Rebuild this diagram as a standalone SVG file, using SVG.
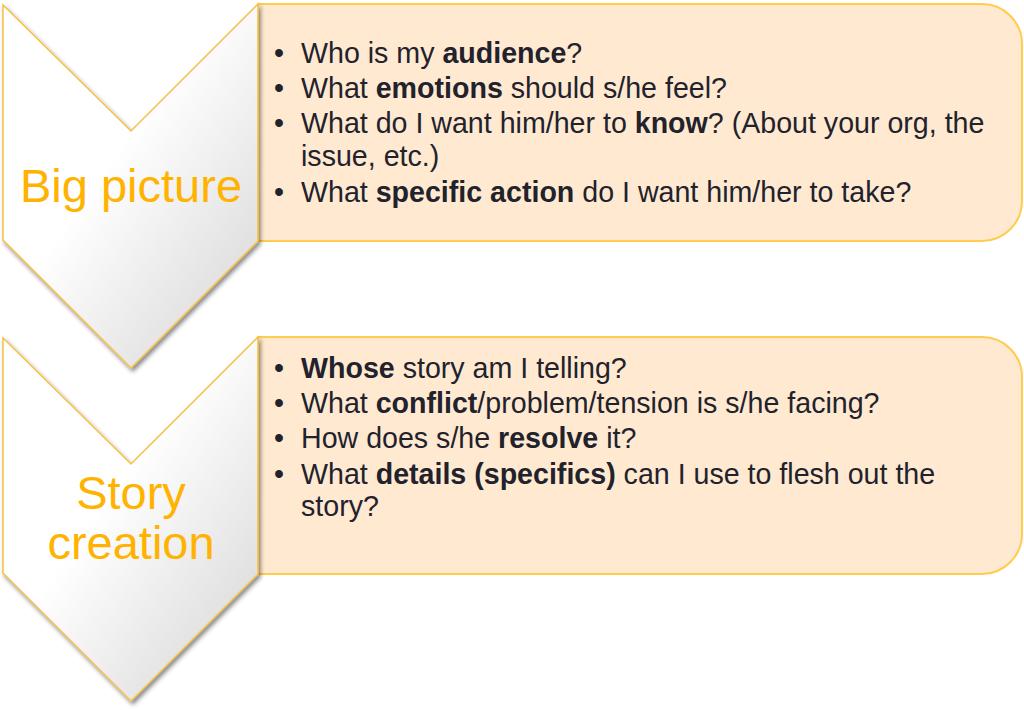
<svg xmlns="http://www.w3.org/2000/svg" width="1024" height="710" viewBox="0 0 1024 710">
<defs>
<linearGradient id="chevGrad" x1="0.35" y1="0.5" x2="0.85" y2="1">
<stop offset="0" stop-color="#ffffff"/>
<stop offset="1" stop-color="#d9d9d9"/>
</linearGradient>
<filter id="shadow" x="-10%" y="-10%" width="130%" height="130%">
<feDropShadow dx="2" dy="3" stdDeviation="2" flood-color="#000" flood-opacity="0.45"/>
</filter>
</defs>
<style>
.chev{fill:url(#chevGrad);stroke:#F5C142;stroke-width:1.5;filter:url(#shadow);}
.box{fill:#FFE9D1;stroke:#FFCC4D;stroke-width:2;}
.title{font-family:"Liberation Sans",Arial,sans-serif;font-size:47px;fill:#FFB300;text-anchor:middle;}
.body{font-family:"Liberation Sans",Arial,sans-serif;font-size:28.6px;fill:#22222c;}
.b{font-weight:bold;}
</style>
<rect width="1024" height="710" fill="#ffffff"/>
<g id="box1">
<path class="box" d="M258,4 H982 A40,40 0 0 1 1022,44 V201 A40,40 0 0 1 982,241 H258 Z"/>
<g class="body">
<text x="274" y="63">•</text>
<text x="301" y="63">Who is my <tspan class="b">audience</tspan>?</text>
<text x="274" y="98">•</text>
<text x="301" y="98">What <tspan class="b">emotions</tspan> should s/he feel?</text>
<text x="274" y="133">•</text>
<text x="301" y="133">What do I want him/her to <tspan class="b">know</tspan>? (About your org, the</text>
<text x="301" y="166">issue, etc.)</text>
<text x="274" y="202">•</text>
<text x="301" y="202">What <tspan class="b">specific action</tspan> do I want him/her to take?</text>
</g>
</g>
<g id="box2">
<path class="box" d="M258,337 H982 A40,40 0 0 1 1022,377 V534 A40,40 0 0 1 982,574 H258 Z"/>
<g class="body">
<text x="274" y="378">•</text>
<text x="301" y="378"><tspan class="b">Whose</tspan> story am I telling?</text>
<text x="274" y="413">•</text>
<text x="301" y="413">What <tspan class="b">conflict</tspan>/problem/tension is s/he facing?</text>
<text x="274" y="448">•</text>
<text x="301" y="448">How does s/he <tspan class="b">resolve</tspan> it?</text>
<text x="274" y="484">•</text>
<text x="301" y="484">What <tspan class="b">details (specifics)</tspan> can I use to flesh out the</text>
<text x="301" y="516">story?</text>
</g>
</g>
<g id="chevron1">
<polygon class="chev" points="3,5 131,131 258,4 258,241 131,368 3,240"/>
<text class="title" x="131" y="202">Big picture</text>
</g>
<g id="chevron2">
<polygon class="chev" points="3,338 131,464 258,337 258,574 131,701 3,573"/>
<text class="title" x="131" y="509">Story</text>
<text class="title" x="131" y="559">creation</text>
</g>
<g id="connectors"></g>
</svg>
